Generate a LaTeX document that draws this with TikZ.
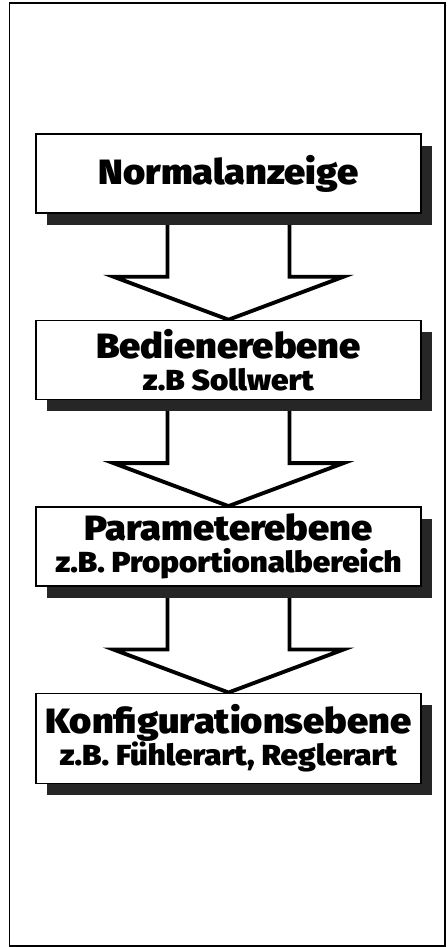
\documentclass[tikz,border=0pt]{standalone}
\usepackage{fontspec}
\newfontfamily\heavy{Fira Sans Black}[FakeStretch=1.08]
\usetikzlibrary{positioning}
\usetikzlibrary{calc}
\usetikzlibrary{shadows}
\usetikzlibrary{backgrounds}
\tikzset{ebene/.style={draw, line width=0.8pt, fill=white, minimum width=7.7cm, minimum height=1.58cm, inner sep=0pt, align=center, font=\heavy\fontsize{20}{21}\selectfont, drop shadow={shadow xshift=0.22cm, shadow yshift=-0.24cm, fill=black!85, opacity=1}}}
\tikzset{pfeil/.style={draw, line width=2.2pt, fill=white, line join=miter}}
\tikzset{pfeilschatten/.style={fill=black, yshift=-0.12cm}}
\newcommand{\zb}[1]{{\fontsize{16.5}{18}\selectfont #1}}

\begin{document}
\begin{tikzpicture}
\useasboundingbox (0,0) rectangle (8.94,-18.94);
\draw[line width=1pt] (0.19,-0.06) rectangle (8.9,-18.92);

\node[ebene] (normal) at (4.57,-3.47) {Normalanzeige};
\node[ebene, below = 2.12 of normal] (bedien) {Bedienerebene\\[-3pt]\zb{z.B Sollwert}};
\node[ebene, below = 2.12 of bedien] (param) {Parameterebene\\[-3pt]\zb{z.B. Proportionalbereich}};
\node[ebene, below = 2.12 of param, minimum height=1.8cm] (konfig) {Konfigurationsebene\\[-3pt]\zb{z.B. Fühlerart, Reglerart}};

% Pfeile hinter den Kaesten
\begin{scope}[on background layer]
\foreach \a/\b in {normal/bedien, bedien/param, param/konfig}
{
  \fill[pfeilschatten] ($(\a.south)+(-2.3,-1.26)$) -- (\b.north) -- ($(\a.south)+(2.3,-1.26)$) -- cycle;
  \draw[pfeil] ($(\a.south)+(-1.22,0)$) -- ($(\a.south)+(-1.22,-1.26)$) -- ($(\a.south)+(-2.3,-1.26)$)
    -- (\b.north) -- ($(\a.south)+(2.3,-1.26)$) -- ($(\a.south)+(1.22,-1.26)$) -- ($(\a.south)+(1.22,0)$);
}
\end{scope}
\end{tikzpicture}
\end{document}
